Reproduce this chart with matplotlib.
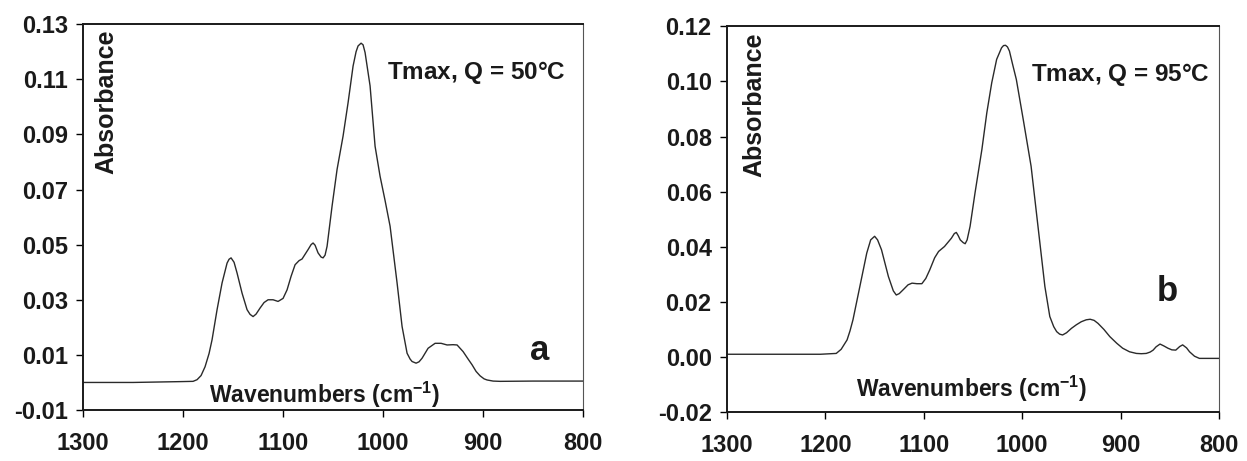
import numpy as np
import matplotlib
matplotlib.use("Agg")
import matplotlib.pyplot as plt
from matplotlib.ticker import FormatStrFormatter

plt.rcParams['font.family'] = ['Liberation Sans', 'DejaVu Sans']
plt.rcParams['font.weight'] = 'bold'
plt.rcParams['axes.unicode_minus'] = False
plt.rcParams['mathtext.fontset'] = 'custom'
plt.rcParams['mathtext.bf'] = 'Liberation Sans:bold'
plt.rcParams['mathtext.rm'] = 'Liberation Sans:bold'

# spectrum a (Tmax, Q = 50 C)
wn_a = [1300, 1250, 1203, 1190, 1186, 1182, 1178, 1174, 1171, 1166, 1161, 1156,
        1154, 1152, 1149, 1146, 1141, 1136, 1133, 1130, 1127, 1123, 1119, 1115,
        1110, 1105, 1100, 1096, 1092, 1088, 1084, 1081, 1075, 1072, 1070, 1068,
        1065, 1062, 1060, 1058, 1056, 1051, 1046, 1040, 1035, 1030, 1027, 1025,
        1022, 1020, 1018, 1013, 1008, 1003, 998, 993, 986, 981, 976, 973, 971,
        967, 964, 961, 955, 948, 942, 936, 930, 926, 920, 915, 911, 907, 903, 899,
        896, 890, 883, 850, 800]
abs_a = [0.0000, 0.0000, 0.0003, 0.0004, 0.0010, 0.0025, 0.0057, 0.0105, 0.0155,
         0.0264, 0.0361, 0.0433, 0.0447, 0.0452, 0.0436, 0.0397, 0.0324, 0.0264,
         0.0247, 0.0239, 0.0248, 0.0270, 0.0290, 0.0300, 0.0300, 0.0294, 0.0305,
         0.0336, 0.0385, 0.0427, 0.0442, 0.0448, 0.0482, 0.0500, 0.0506, 0.0498,
         0.0470, 0.0455, 0.0452, 0.0462, 0.0494, 0.0640, 0.0773, 0.0894, 0.1015,
         0.1148, 0.1200, 0.1221, 0.1231, 0.1225, 0.1197, 0.1076, 0.0857, 0.0748,
         0.0660, 0.0567, 0.0361, 0.0203, 0.0106, 0.0085, 0.0076, 0.0070, 0.0075,
         0.0088, 0.0124, 0.0142, 0.0142, 0.0136, 0.0137, 0.0136, 0.0112, 0.0085,
         0.0064, 0.0040, 0.0024, 0.0013, 0.0009, 0.0005, 0.0004, 0.0005, 0.0005]

# spectrum b (Tmax, Q = 95 C)
wn_b = [1300, 1250, 1205, 1189, 1184, 1178, 1175, 1172, 1165, 1158, 1154, 1150,
        1147, 1143, 1136, 1131, 1128, 1125, 1121, 1116, 1112, 1107, 1102, 1098,
        1094, 1089, 1085, 1079, 1072, 1069, 1067, 1065, 1063, 1060, 1058, 1056,
        1053, 1048, 1041, 1036, 1031, 1026, 1021, 1019, 1017, 1015, 1013, 1010,
        1006, 999, 991, 984, 977, 972, 968, 965, 962, 959, 955, 950, 945, 940, 935,
        931, 927, 923, 917, 911, 904, 898, 891, 884, 879, 874, 870, 867, 864, 860,
        856, 852, 848, 844, 840, 837, 833, 830, 825, 820, 800]
abs_b = [0.0010, 0.0010, 0.0010, 0.0013, 0.0028, 0.0062, 0.0095, 0.0135, 0.0256,
         0.0377, 0.0425, 0.0438, 0.0425, 0.0389, 0.0292, 0.0240, 0.0225, 0.0230,
         0.0244, 0.0262, 0.0268, 0.0266, 0.0266, 0.0285, 0.0316, 0.0360, 0.0383,
         0.0401, 0.0431, 0.0448, 0.0452, 0.0440, 0.0425, 0.0415, 0.0411, 0.0425,
         0.0474, 0.0595, 0.0753, 0.0886, 0.0995, 0.1080, 0.1122, 0.1130, 0.1131,
         0.1125, 0.1110, 0.1065, 0.1007, 0.0862, 0.0692, 0.0474, 0.0256, 0.0147,
         0.0110, 0.0092, 0.0083, 0.0080, 0.0088, 0.0104, 0.0117, 0.0128, 0.0135,
         0.0137, 0.0133, 0.0122, 0.0100, 0.0074, 0.0050, 0.0032, 0.0019, 0.0013,
         0.0012, 0.0013, 0.0018, 0.0025, 0.0037, 0.0047, 0.0040, 0.0032, 0.0026,
         0.0025, 0.0038, 0.0044, 0.0033, 0.0019, 0.0003, -0.0005, -0.0005]

x_ticks = [1300, 1200, 1100, 1000, 900, 800]

panels = [
    dict(wn=wn_a, ab=abs_a, ylim=(-0.01, 0.13), yticks=np.arange(-0.01, 0.131, 0.02),
         rect=[0.0666, 0.1106, 0.401, 0.837], title='Tmax, Q = 50$\\degree$C',
         title_xy=(996, 0.110), letter='a', letter_xy=(843, 0.0115),
         wavexy=(1059, -0.0075), absx=0.046),
    dict(wn=wn_b, ab=abs_b, ylim=(-0.02, 0.12), yticks=np.arange(-0.02, 0.121, 0.02),
         rect=[0.583, 0.106, 0.3946, 0.837], title='Tmax, Q = 95$\\degree$C',
         title_xy=(991, 0.1001), letter='b', letter_xy=(853, 0.0236),
         wavexy=(1052, -0.0145), absx=0.055),
]

fig = plt.figure(figsize=(12.47, 4.61), dpi=100)

for p in panels:
    ax = fig.add_axes(p['rect'])
    ax.plot(p['wn'], p['ab'], color='#2a2a2a', lw=1.0)
    ax.set_xlim(1300, 800)
    ax.set_ylim(*p['ylim'])
    ax.set_xticks(x_ticks)
    ax.set_yticks(p['yticks'])
    ax.yaxis.set_major_formatter(FormatStrFormatter('%.2f'))
    ax.tick_params(axis='x', direction='out', length=5, width=1, pad=11, labelsize=17)
    ax.tick_params(axis='y', direction='out', length=5, width=1, pad=6, labelsize=17)
    for lab in ax.get_xticklabels() + ax.get_yticklabels():
        lab.set_fontweight('bold')
        lab.set_color('#1a1a1a')
    for side in ['left', 'bottom', 'top']:
        ax.spines[side].set_linewidth(1.4)
        ax.spines[side].set_color('#1a1a1a')
    ax.spines['right'].set_linewidth(0.8)
    ax.spines['right'].set_color('#555555')

    ax.text(p['title_xy'][0], p['title_xy'][1], p['title'], fontsize=17.5,
            fontweight='bold', ha='left', va='baseline', color='#1a1a1a')
    ax.text(p['letter_xy'][0], p['letter_xy'][1], p['letter'], fontsize=25,
            fontweight='bold', ha='center', va='center', color='#1a1a1a')
    ax.text(p['wavexy'][0], p['wavexy'][1], 'Wavenumbers (cm$^{\\mathbf{-1}}$)',
            fontsize=16.5, fontweight='bold', ha='center', va='baseline', color='#1a1a1a')
    ax.text(p['absx'], 0.985, 'Absorbance', transform=ax.transAxes, rotation=90,
            fontsize=18, fontweight='bold', ha='center', va='top', color='#1a1a1a')

fig.savefig('out.png', dpi=100)
